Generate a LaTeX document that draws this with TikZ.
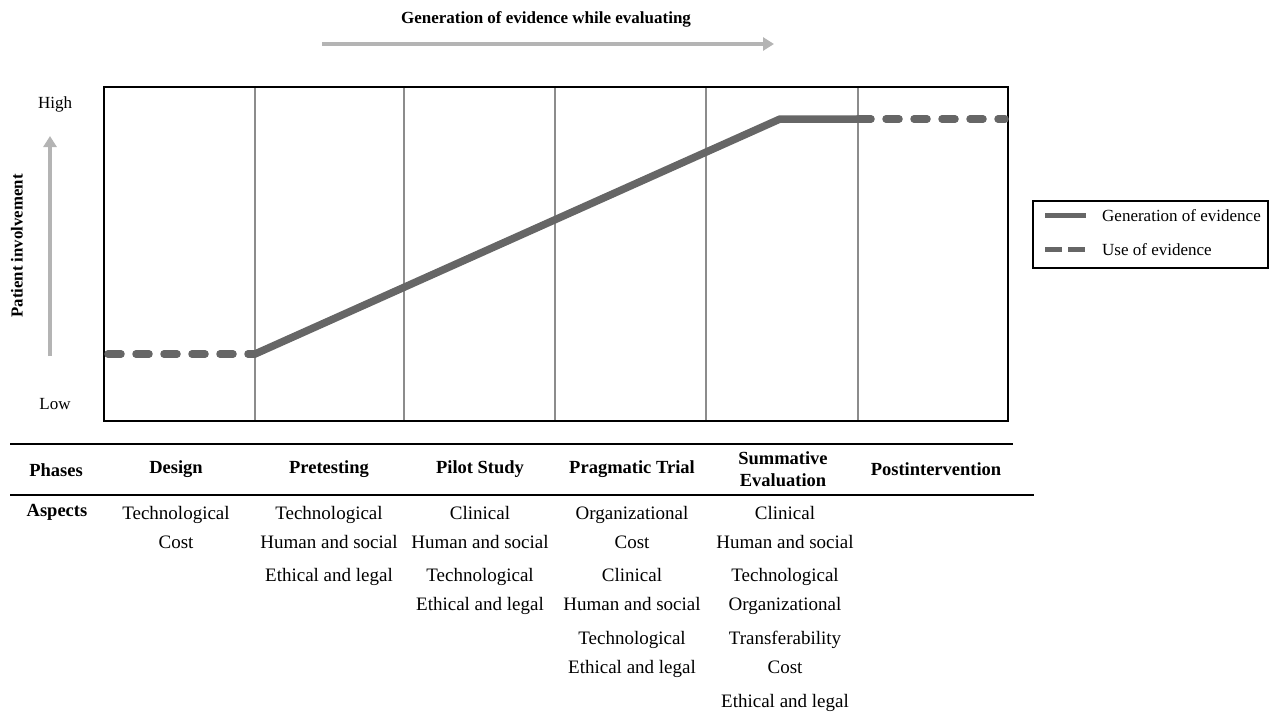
\documentclass[tikz,border=0pt]{standalone}
\usepackage{fontspec}
\setmainfont{Liberation Serif}
\usetikzlibrary{arrows.meta}
\definecolor{curve}{HTML}{666666}
\definecolor{grid}{HTML}{8C8C8C}
\definecolor{light}{HTML}{B4B4B4}
\begin{document}
\begin{tikzpicture}[x=1pt,y=-1pt,
  txt/.style={inner sep=0pt,text height=13pt,text depth=4pt,yshift=-2pt,font=\fontsize{19}{21}\selectfont},
  hdr/.style={inner sep=0pt,font=\fontsize{18.5}{21}\selectfont\bfseries,align=center},
  small/.style={inner sep=0pt,font=\fontsize{17}{20}\selectfont},
  gen/.style={draw=curve,line width=7.5pt,line join=round},
  use/.style={draw=curve,line width=7.5pt,line cap=round,dash pattern=on 13pt off 15pt},
  gridline/.style={draw=grid,line width=1.4pt},
  grayarrow/.style={draw=light,line width=4.5pt,-{Triangle[length=11pt,width=13pt]}},
  rule/.style={draw=black,line width=2pt}]
\useasboundingbox (0,0) rectangle (1272,713);

% title and top arrow
\node[small,font=\fontsize{17}{20}\selectfont\bfseries] (title) at (546,19) {Generation of evidence while evaluating};
\coordinate (ta) at (322,44);
\coordinate (tb) at (774,44);
\draw[grayarrow] (ta) -- (tb);

% axis labels
\node[small] (high) at (55,104) {High};
\node[small] (low) at (55,404) {Low};
\coordinate (va) at (50,356);
\coordinate (vb) at (50,136);
\draw[grayarrow] (va) -- (vb);
\node[small,font=\fontsize{16.8}{20}\selectfont\bfseries,rotate=90] (pi) at (17,246) {Patient involvement};

% plot frame
\coordinate (f1) at (104,87);
\coordinate (f2) at (1008,421);
\foreach \x [count=\i] in {255,404,555,706,858}{
  \coordinate (gt\i) at (\x,87);
  \coordinate (gb\i) at (\x,421);
  \draw[gridline] (gt\i) -- (gb\i);
}
\draw[draw=black,line width=2pt] (f1) rectangle (f2);

% curves
\coordinate (p0) at (108,354);
\coordinate (p1) at (255,354);
\coordinate (p2) at (780,119);
\coordinate (p3) at (858,119);
\coordinate (p4) at (1005,119);
\draw[use] (p0) -- (p1);
\draw[gen] (p1) -- (p2) -- (p3);
\draw[use] (p3) -- (p4);

% legend
\node[draw=black,line width=1.6pt,minimum width=235pt,minimum height=67pt,inner sep=0pt] (legend) at (1150.5,234.5) {};
\coordinate (l1a) at (1045,215);
\coordinate (l1b) at (1086,215);
\draw[draw=curve,line width=5pt] (l1a) -- (l1b);
\coordinate (l2a) at (1045,249);
\coordinate (l2b) at (1086,249);
\draw[draw=curve,line width=5pt,dash pattern=on 17pt off 6pt] (l2a) -- (l2b);
\node[small,anchor=west] (lg1) at (1102,216) {Generation of evidence};
\node[small,anchor=west] (lg2) at (1102,250) {Use of evidence};

% table rules
\coordinate (r1a) at (10,444);
\coordinate (r1b) at (1013,444);
\coordinate (r2a) at (10,495);
\coordinate (r2b) at (1034,495);
\draw[rule] (r1a) -- (r1b);
\draw[rule] (r2a) -- (r2b);

% header
\node[hdr] (hph) at (56,470) {Phases};
\node[hdr] (hde) at (176,469) {Design};
\node[hdr] (hpr) at (329,469) {Pretesting};
\node[hdr] (hpi) at (480,469) {Pilot Study};
\node[hdr] (hpt) at (632,469) {Pragmatic Trial};
\node[hdr,font=\fontsize{18.5}{22}\selectfont\bfseries] (hsu) at (783,469) {Summative\\Evaluation};
\node[hdr] (hpo) at (936,469) {Postintervention};

% aspects
\node[hdr] (asp) at (57,512) {Aspects};
\node[txt] (d1) at (176,513) {Technological};
\node[txt] (d2) at (176,542) {Cost};

\node[txt] (e1) at (329,513) {Technological};
\node[txt] (e2) at (329,542) {Human and social};
\node[txt] (e3) at (329,575) {Ethical and legal};

\node[txt] (c1) at (480,513) {Clinical};
\node[txt] (c2) at (480,542) {Human and social};
\node[txt] (c3) at (480,575) {Technological};
\node[txt] (c4) at (480,604) {Ethical and legal};

\node[txt] (t1) at (632,513) {Organizational};
\node[txt] (t2) at (632,542) {Cost};
\node[txt] (t3) at (632,575) {Clinical};
\node[txt] (t4) at (632,604) {Human and social};
\node[txt] (t5) at (632,638) {Technological};
\node[txt] (t6) at (632,667) {Ethical and legal};

\node[txt] (s1) at (785,513) {Clinical};
\node[txt] (s2) at (785,542) {Human and social};
\node[txt] (s3) at (785,575) {Technological};
\node[txt] (s4) at (785,604) {Organizational};
\node[txt] (s5) at (785,638) {Transferability};
\node[txt] (s6) at (785,667) {Cost};
\node[txt] (s7) at (785,701) {Ethical and legal};
\end{tikzpicture}
\end{document}
